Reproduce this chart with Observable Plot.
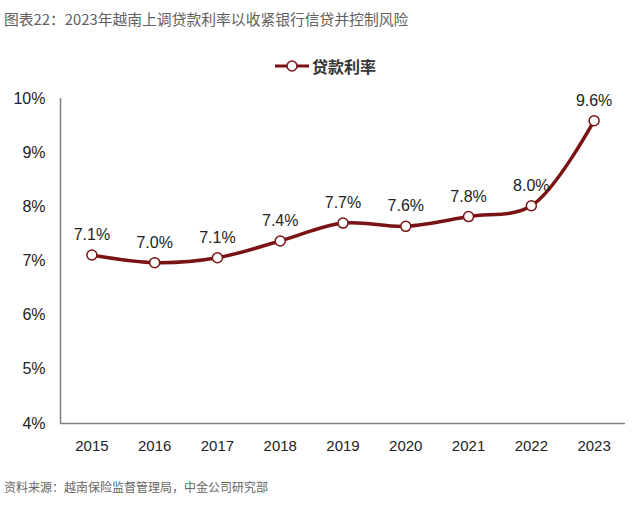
<!DOCTYPE html>
<html>
<head>
<meta charset="utf-8">
<script src="https://cdn.jsdelivr.net/npm/d3@7"></script>
<script src="https://cdn.jsdelivr.net/npm/@observablehq/plot@0.6"></script>
<style>
  html, body { margin: 0; padding: 0; background: #fff; }
  body { width: 640px; height: 505px; position: relative; overflow: hidden; font-family: "Liberation Sans", Arial, "Noto Sans CJK SC", sans-serif; }
  #title { position: absolute; left: 4px; top: 8px; font-size: 14.8px; color: #606060; font-family: "Noto Sans CJK SC", sans-serif; white-space: nowrap; }
  #legend { position: absolute; left: 274px; top: 55px; height: 22px; display: flex; align-items: center; }
  #legend span { font-family: "Noto Sans CJK SC", sans-serif; font-weight: bold; font-size: 16px; color: #333; margin-left: 2px; }
  #chart { position: absolute; left: 0; top: 80px; }
  #caption { position: absolute; left: 4px; top: 478px; font-size: 12px; color: #666; font-family: "Noto Sans CJK SC", sans-serif; white-space: nowrap; }
</style>
</head>
<body>
<div id="title">图表22：2023年越南上调贷款利率以收紧银行信贷并控制风险</div>
<div id="legend"></div>
<div id="chart"></div>
<div id="caption">资料来源：越南保险监督管理局，中金公司研究部</div>
<script>
const years = [2015, 2016, 2017, 2018, 2019, 2020, 2021, 2022, 2023];
const rates = [7.11, 6.97, 7.06, 7.37, 7.70, 7.64, 7.82, 8.02, 9.59];
const yTicks = [4, 5, 6, 7, 8, 9, 10];
const seriesName = "贷款利率";

const lineColor = "#7a1315";
const data = years.map((y, i) => ({year: y, rate: rates[i]}));

// legend
const leg = document.getElementById("legend");
leg.innerHTML = `<svg width="36" height="14"><line x1="1" y1="7" x2="35" y2="7" stroke="${lineColor}" stroke-width="3"/><circle cx="18" cy="7" r="5" fill="#fff" stroke="${lineColor}" stroke-width="1.5"/></svg><span>${seriesName}</span>`;

const chart = Plot.plot({
  width: 640,
  height: 390,
  marginLeft: 60,
  marginRight: 15,
  marginTop: 18,
  marginBottom: 47,
  style: { fontFamily: "'Liberation Sans', Arial, sans-serif", background: "#fff" },
  x: { domain: [2014.5, 2023.5] },
  y: { domain: [4, 10] },
  marks: [
    Plot.axisY({ ticks: yTicks, tickSize: 0, tickPadding: 15, tickFormat: d => d + "%", fontSize: 16, fill: "#222", label: null }),
    Plot.axisX({ ticks: years, tickSize: 0, tickPadding: 17, tickFormat: d => String(d), fontSize: 15, fill: "#222", label: null }),
    Plot.ruleX([2014.5], { stroke: "#808080", strokeWidth: 1.5 }),
    Plot.ruleY([4], { stroke: "#808080", strokeWidth: 1.5 }),
    Plot.line(data, { x: "year", y: "rate", curve: "catmull-rom", stroke: lineColor, strokeWidth: 3.5 }),
    Plot.dot(data, { x: "year", y: "rate", r: 5, fill: "#fff", stroke: lineColor, strokeWidth: 1.5 }),
    Plot.text(data, { x: "year", y: "rate", text: d => d.rate.toFixed(1) + "%", dy: -20, fontSize: 16, fill: "#222" })
  ]
});
document.getElementById("chart").appendChild(chart);
</script>
</body>
</html>
